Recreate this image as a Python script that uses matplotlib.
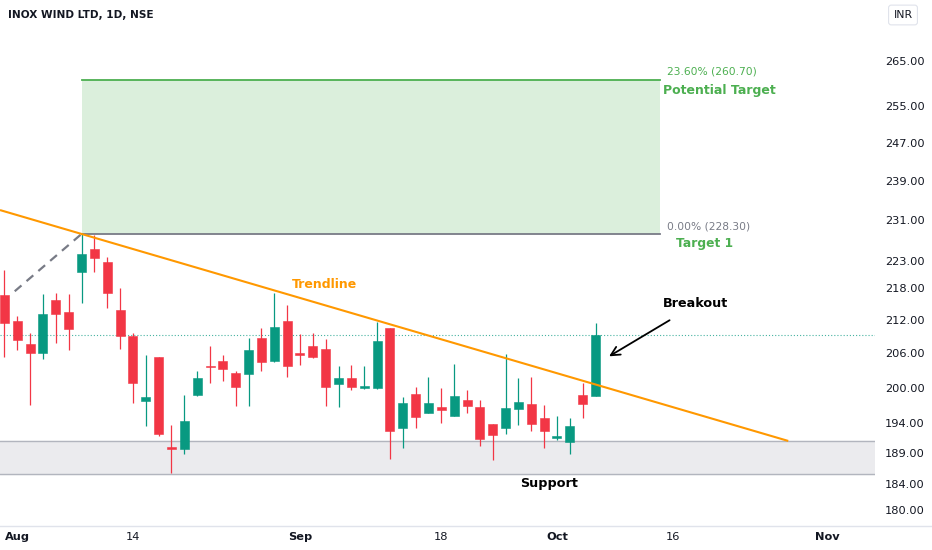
import numpy as np
import matplotlib
matplotlib.use("Agg")
import matplotlib.pyplot as plt
from matplotlib.lines import Line2D
from matplotlib.ticker import NullLocator, FixedLocator, FixedFormatter

plt.rcParams['font.family'] = ['DejaVu Sans']

# daily candles, Jul 31 .. Oct 6 (NSE trading days)
dates = ["Jul 31", "Aug 1", "Aug 2", "Aug 3", "Aug 4", "Aug 7", "Aug 8", "Aug 9", "Aug 10",
         "Aug 11", "Aug 14", "Aug 16", "Aug 17", "Aug 18", "Aug 21", "Aug 22", "Aug 23",
         "Aug 24", "Aug 25", "Aug 28", "Aug 29", "Aug 30", "Aug 31", "Sep 1", "Sep 4",
         "Sep 5", "Sep 6", "Sep 7", "Sep 8", "Sep 11", "Sep 12", "Sep 13", "Sep 14",
         "Sep 15", "Sep 18", "Sep 20", "Sep 21", "Sep 22", "Sep 25", "Sep 26", "Sep 27",
         "Sep 28", "Sep 29", "Oct 3", "Oct 4", "Oct 5", "Oct 6"]
opens = [216.6, 211.8, 207.6, 206.0, 215.7, 213.4, 221.0, 225.3, 222.9, 213.9, 209.1,
         197.7, 205.4, 190.0, 189.7, 198.7, 203.8, 204.6, 202.5, 202.4, 208.7, 204.7,
         211.8, 206.0, 207.2, 206.7, 200.6, 201.6, 200.0, 199.9, 210.5, 193.1, 198.9,
         195.7, 196.7, 195.2, 197.9, 196.7, 193.8, 193.1, 196.3, 197.2, 194.8, 191.5,
         190.8, 198.8, 198.6]
highs = [221.3, 212.7, 209.6, 216.8, 216.9, 216.8, 228.3, 228.1, 223.8, 217.9, 209.6,
         205.7, 205.4, 193.7, 198.7, 202.8, 207.2, 205.7, 202.9, 208.8, 210.5, 216.9,
         214.8, 209.5, 209.6, 208.5, 203.7, 204.0, 203.7, 211.7, 210.6, 198.3, 200.1,
         201.8, 199.9, 204.1, 199.6, 197.8, 193.8, 205.9, 201.6, 201.9, 197.0, 195.2,
         194.8, 200.7, 211.5]
lows = [205.3, 206.5, 197.0, 204.9, 207.9, 206.5, 215.2, 220.9, 214.1, 206.7, 197.4,
        193.5, 191.8, 185.8, 188.9, 198.5, 200.7, 201.2, 196.8, 196.8, 202.8, 204.5,
        201.9, 204.0, 205.1, 196.9, 196.6, 199.6, 199.7, 199.8, 188.0, 189.8, 193.1,
        195.6, 193.9, 195.1, 195.7, 190.1, 187.9, 192.2, 193.7, 192.6, 189.9, 191.1,
        188.8, 194.8, 198.5]
closes = [211.5, 208.4, 206.0, 213.1, 213.1, 210.3, 224.4, 223.7, 216.9, 209.1, 200.7,
          198.3, 192.2, 189.7, 194.3, 201.6, 203.5, 203.2, 200.1, 206.5, 204.4, 210.7,
          203.8, 205.7, 205.4, 200.1, 201.6, 200.1, 200.3, 208.1, 192.6, 197.3, 194.9,
          197.3, 196.2, 198.6, 196.9, 191.3, 191.9, 196.5, 197.5, 193.8, 192.7, 191.8,
          193.4, 197.2, 209.2]

# axis labels
price_ticks = [180, 184, 189, 194, 200, 206, 212, 218, 223, 231, 239, 247, 255, 265]
date_tick_pos = [1, 10, 23, 34, 43, 52, 64]
date_tick_labels = ["Aug", "14", "Sep", "18", "Oct", "16", "Nov"]
month_labels = ["Aug", "Sep", "Oct", "Nov"]

# drawings
trend_x = [6, 61]
trend_p = [228.3, 191.0]
fib_x = [0.8, 6]
fib_p = [217.3, 228.3]
fib_box_x = [6, 51]
fib_levels = [228.30, 260.70]
support_zone = [185.7, 191.0]

GREEN = "#089981"
RED = "#f23645"
ORANGE = "#ff9800"
FIBGREEN = "#4caf50"
GRAY = "#787b86"
TXT = "#131722"

fig = plt.figure(figsize=(9.32, 5.5), dpi=100)
ax = fig.add_axes([0, 24 / 550, 875 / 932, 526 / 550])
ax.set_yscale("log")
xl = (-0.346, 67.75)
ax.set_xlim(*xl)
ax.set_ylim(177.5, 279.3)

x = np.arange(len(dates))
o = np.array(opens); c = np.array(closes)
cols = [GREEN if cc >= oo else RED for oo, cc in zip(o, c)]

# support zone
ax.axhspan(support_zone[0], support_zone[1], color="#ebebee", zorder=0)
for lv in support_zone:
    ax.axhline(lv, color="#b2b5be", lw=1.0, zorder=1)

# fib target box
ax.fill_between(fib_box_x, fib_levels[0], fib_levels[1], color=FIBGREEN, alpha=0.2,
                lw=0, zorder=0)
ax.plot(fib_box_x, [fib_levels[1]] * 2, color=FIBGREEN, lw=1.3, zorder=1)
ax.plot(fib_box_x, [fib_levels[0]] * 2, color=GRAY, lw=1.3, zorder=1)
ax.plot(fib_x, fib_p, color=GRAY, lw=1.6, ls=(0, (4, 3)), zorder=1)

# last price line
ax.axhline(closes[-1], color=GREEN, lw=0.8, ls=(0, (1, 1.8)), alpha=0.75, zorder=1)

# candles
ax.vlines(x, lows, highs, colors=cols, lw=0.9, zorder=3)
ax.bar(x, np.abs(c - o), bottom=np.minimum(o, c), width=0.7, color=cols,
       edgecolor=cols, lw=0.4, zorder=4)

# trendline, extended to the left edge
slope = (np.log(trend_p[1]) - np.log(trend_p[0])) / (trend_x[1] - trend_x[0])
left_p = np.exp(np.log(trend_p[0]) + slope * (xl[0] - trend_x[0]))
ax.plot([xl[0]] + trend_x, [left_p] + trend_p, color=ORANGE, lw=1.5, zorder=5,
        solid_capstyle="butt")

# annotations
ax.annotate("23.60% (260.70)", xy=(fib_box_x[1], fib_levels[1]), xytext=(5, 5.8),
            textcoords="offset points", ha="left", va="center", fontsize=7.7,
            color=FIBGREEN)
ax.annotate("Potential Target", xy=(fib_box_x[1], fib_levels[1]), xytext=(2.2, -7.9),
            textcoords="offset points", ha="left", va="center", fontsize=9,
            color=FIBGREEN, fontweight="bold")
ax.annotate("0.00% (228.30)", xy=(fib_box_x[1], fib_levels[0]), xytext=(5, 5.5),
            textcoords="offset points", ha="left", va="center", fontsize=7.7,
            color=GRAY)
ax.annotate("Target 1", xy=(fib_box_x[1], fib_levels[0]), xytext=(11.5, -6.9),
            textcoords="offset points", ha="left", va="center", fontsize=8.8,
            color=FIBGREEN, fontweight="bold")
ax.text(24.9, 218.6, "Trendline", ha="center", va="center", fontsize=9,
        color=ORANGE, fontweight="bold")
ax.text(53.78, 215.0, "Breakout", ha="center", va="center", fontsize=9.2,
        color="black", fontweight="bold")
ax.text(42.4, 184.2, "Support", ha="center", va="center", fontsize=9.2,
        color="black", fontweight="bold")
ax.annotate("", xy=(46.87, 205.2), xytext=(51.95, 212.2),
            arrowprops=dict(arrowstyle="->", color="black", lw=1.3,
                            mutation_scale=16))

# axes styling
for s in ax.spines.values():
    s.set_visible(False)
ax.yaxis.tick_right()
ax.yaxis.set_major_locator(FixedLocator(price_ticks))
ax.yaxis.set_major_formatter(FixedFormatter([f"{p:.2f}" for p in price_ticks]))
ax.yaxis.set_minor_locator(NullLocator())
ax.tick_params(axis="y", length=0, pad=7.2, labelsize=8.2, labelcolor=TXT)
ax.set_xticks(date_tick_pos)
ax.set_xticklabels(date_tick_labels)
ax.tick_params(axis="x", length=0, pad=4.5, labelsize=8.2, labelcolor=TXT)
for lab in ax.get_xticklabels():
    if lab.get_text() in month_labels:
        lab.set_fontweight("bold")

fig.add_artist(Line2D([0, 1], [24 / 550, 24 / 550], color="#e0e3eb", lw=1.0))

fig.text(8 / 932, 1 - 15 / 550, "INOX WIND LTD, 1D, NSE", ha="left", va="center",
         fontsize=7.6, fontweight="bold", color=TXT)
fig.text(903 / 932, 1 - 15 / 550, "INR", ha="center", va="center", fontsize=7.8,
         color=TXT,
         bbox=dict(boxstyle="round,pad=0.45,rounding_size=0.25", fc="white",
                   ec="#e0e3eb", lw=0.8))

fig.savefig("out.png", dpi=100)
